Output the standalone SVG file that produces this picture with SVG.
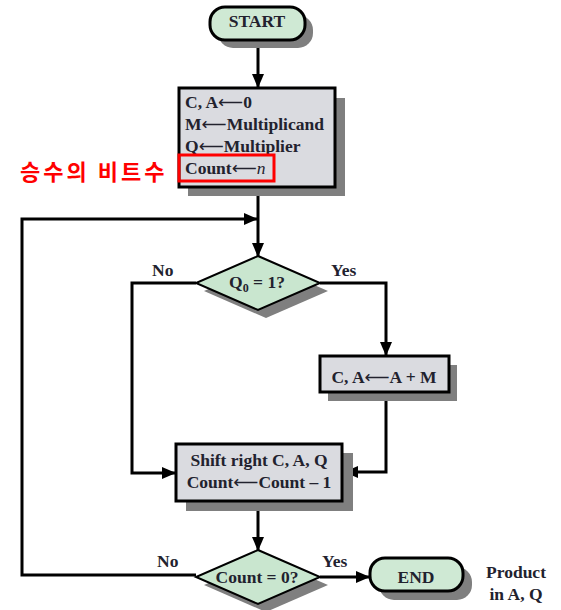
<svg xmlns="http://www.w3.org/2000/svg" width="561" height="610" viewBox="0 0 561 610">
<style>
.t{font-family:'Liberation Serif','Times New Roman','DejaVu Serif',serif;font-weight:bold;font-size:17.5px;fill:#22222e}
.c{text-anchor:middle}
.ar{font-family:'DejaVu Sans',sans-serif;font-weight:normal}
.ln{fill:none;stroke:#000;stroke-width:3}
.sh{fill:#7f7f7f}
.box{fill:#dadbe0;stroke:#000;stroke-width:3}
.term{fill:#cfe9d4;stroke:#000;stroke-width:3}
.dia{fill:#c9e6cf;stroke:#000;stroke-width:2}
</style>
<defs>
<marker id="ah" markerUnits="userSpaceOnUse" markerWidth="14" markerHeight="12" refX="13" refY="6" orient="auto">
<path d="M0,0 L14,6 L0,12 Z" fill="#000"/>
</marker>
</defs>
<g id="connectors">
<line class="ln" x1="258" y1="40" x2="258" y2="87" marker-end="url(#ah)"/>
<line class="ln" x1="258" y1="188" x2="258" y2="256" marker-end="url(#ah)"/>
<polyline class="ln" points="196,575 22,575 22,219 257,219" marker-end="url(#ah)"/>
<polyline class="ln" points="196,283 132,283 132,473 175,473" marker-end="url(#ah)"/>
<polyline class="ln" points="320,283 386,283 386,355" marker-end="url(#ah)"/>
<polyline class="ln" points="386,393 386,472 345,472" marker-end="url(#ah)"/>
<line class="ln" x1="258" y1="502" x2="258" y2="550" marker-end="url(#ah)"/>
<line class="ln" x1="320" y1="577" x2="369" y2="577" marker-end="url(#ah)"/>
</g>
<g id="start">
<rect class="sh" x="218" y="15" width="95" height="33" rx="15"/>
<rect class="term" x="210" y="7" width="95" height="33" rx="15"/>
<text class="t c" x="257" y="27">START</text>
</g>
<g id="init">
<rect class="sh" x="188" y="98" width="157" height="98"/>
<rect class="box" x="179" y="88" width="156" height="99"/>
<text class="t" x="185" y="108">C, A<tspan class="ar">⟵</tspan>0</text>
<text class="t" x="185" y="130">M<tspan class="ar">⟵</tspan>Multiplicand</text>
<text class="t" x="185" y="152">Q<tspan class="ar">⟵</tspan>Multiplier</text>
<text class="t" x="185" y="174">Count<tspan class="ar">⟵</tspan><tspan font-style="italic" font-weight="normal">n</tspan></text>
<rect x="179" y="155" width="95" height="26" fill="none" stroke="#ff0000" stroke-width="3"/>
</g>
<g id="note">
<text x="20" y="180" font-family="'Noto Sans CJK KR',sans-serif" font-weight="bold" font-size="22" letter-spacing="3" fill="#ff0000">승수의 비트수</text>
</g>
<g id="q0">
<polygon class="sh" points="266,264 328,291 266,318 204,291"/>
<polygon class="dia" points="258,256 320,283 258,310 196,283"/>
<text class="t c" x="257" y="288">Q<tspan font-size="12" dy="4">0</tspan><tspan dy="-4"> = 1?</tspan></text>
<text class="t" x="152" y="276">No</text>
<text class="t" x="331" y="276">Yes</text>
</g>
<g id="add">
<rect class="sh" x="328" y="365" width="129" height="36"/>
<rect class="box" x="320" y="356" width="129" height="36"/>
<text class="t c" x="384" y="383">C, A<tspan class="ar">⟵</tspan>A + M</text>
</g>
<g id="shift">
<rect class="sh" x="186" y="453" width="167" height="58"/>
<rect class="box" x="176" y="444" width="166" height="57"/>
<text class="t c" x="259" y="466">Shift right C, A, Q</text>
<text class="t c" x="259" y="488">Count<tspan class="ar">⟵</tspan>Count – 1</text>
</g>
<g id="count0">
<polygon class="sh" points="266,558 328,585 266,612 204,585"/>
<polygon class="dia" points="258,550 320,577 258,604 196,577"/>
<text class="t c" x="257" y="583">Count = 0?</text>
<text class="t" x="157" y="567">No</text>
<text class="t" x="322" y="567">Yes</text>
</g>
<g id="end">
<rect class="sh" x="379" y="567" width="93" height="33" rx="15"/>
<rect class="term" x="370" y="558" width="93" height="33" rx="15"/>
<text class="t c" x="416" y="583">END</text>
<text class="t c" x="516" y="578">Product</text>
<text class="t c" x="516" y="600">in A, Q</text>
</g>
</svg>
